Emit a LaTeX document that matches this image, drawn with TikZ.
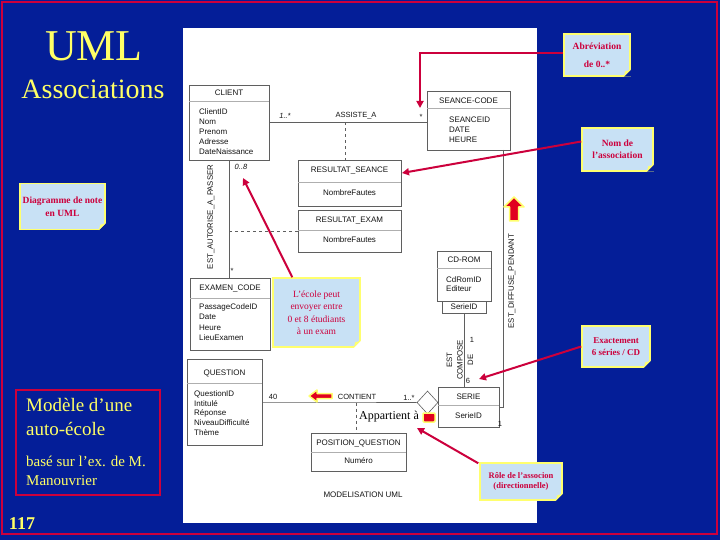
\documentclass[tikz,border=0pt]{standalone}
\usepackage{fontspec}
\setmainfont{Liberation Serif}
\newfontfamily\umlfont{Liberation Sans}
\usetikzlibrary{shapes.geometric,arrows.meta}
\definecolor{slidebg}{RGB}{4,30,152}
\definecolor{crim}{RGB}{204,0,60}
\definecolor{calfill}{RGB}{200,225,245}
\definecolor{calyel}{RGB}{255,255,110}
\definecolor{titley}{RGB}{255,255,102}
\definecolor{umlgrey}{RGB}{95,95,95}
\definecolor{umltext}{RGB}{20,20,20}
\definecolor{blockred}{RGB}{225,0,30}
\newcommand\foldcorner[2]{%
  \fill[#2] (#1.south east) -- ([xshift=-7pt]#1.south east) -- ([yshift=7pt]#1.south east) -- cycle;
  \fill[calyel] ([xshift=-7pt]#1.south east) -- ([yshift=7pt]#1.south east) -- ([xshift=-5.5pt,yshift=5.5pt]#1.south east) -- cycle;}
\begin{document}
\begin{tikzpicture}[x=1pt,y=-1pt,
  cls/.style={draw=umlgrey, line width=0.6pt, fill=white, inner sep=0, anchor=north west},
  hdr/.style={font=\umlfont\fontsize{8}{9}\selectfont, text=umltext, inner sep=0},
  attr/.style={font=\umlfont\fontsize{8}{10}\selectfont, text=umltext, align=left, inner sep=0, anchor=north west},
  lbl/.style={font=\umlfont\fontsize{7.5}{9}\selectfont, text=umltext, inner sep=0},
  sep/.style={draw=umlgrey!50, line width=0.4pt},
  assoc/.style={draw=umlgrey, line width=0.6pt},
  callout/.style={draw=calyel, line width=1.5pt, fill=calfill, align=center, text=crim,
    font=\fontsize{9.5}{12}\selectfont\bfseries, inner sep=1pt},
  pointer/.style={draw=crim, line width=2pt, -{Triangle[length=7pt,width=7pt]}},
  blockarrow/.style={draw=calyel, line width=1.5pt, fill=blockred, line join=round}]
\useasboundingbox (0,0) rectangle (720,540);
% slide
\fill[slidebg] (0,0) rectangle (720,540);
\draw[crim, line width=2pt] (2,2) rectangle (717,534);
\node[text=titley, font=\fontsize{44}{48}\selectfont, inner sep=0] (t1) at (94,46) {UML};
\node[text=titley, font=\fontsize{28}{32}\selectfont, inner sep=0] (t2) at (93,89) {Associations};
% white panel
\fill[white] (183,28) rectangle (537,523);
% classes
\node[cls, minimum width=80, minimum height=75] (client) at (189,85) {};
\node[hdr] (clientH) at (229,93) {CLIENT};
\draw[sep] (189,101) -- (269,101);
\node[attr] (clientA) at (199,108.5) {ClientID\\Nom\\Prenom\\Adresse\\DateNaissance};

\node[cls, minimum width=83, minimum height=59] (seance) at (427,91) {};
\node[hdr] (seanceH) at (468.5,101) {SEANCE-CODE};
\draw[sep] (427,108) -- (510,108);
\node[attr] (seanceA) at (449,116.5) {SEANCEID\\DATE\\HEURE};

\node[cls, minimum width=103, minimum height=46] (resseance) at (298,160) {};
\node[hdr] (resseanceH) at (349.5,171) {RESULTAT\_SEANCE};
\draw[sep] (298,182) -- (401,182);
\node[hdr] (resseanceA) at (349.5,193) {NombreFautes};

\node[cls, minimum width=103, minimum height=42] (resexam) at (298,210) {};
\node[hdr] (resexamH) at (349.5,221) {RESULTAT\_EXAM};
\draw[sep] (298,230) -- (401,230);
\node[hdr] (resexamA) at (349.5,240) {NombreFautes};

\node[cls, minimum width=54, minimum height=50] (cdrom) at (437,251) {};
\node[hdr] (cdromH) at (464,260) {CD-ROM};
\draw[sep] (437,268) -- (491,268);
\node[attr, font=\umlfont\fontsize{8}{9.5}\selectfont] (cdromA) at (446,276.5) {CdRomID\\Editeur};
\node[cls, minimum width=44, minimum height=12] (qual) at (442,301) {};
\node[hdr] (qualT) at (464,307) {SerieID};

\node[cls, minimum width=61, minimum height=40] (serie) at (438,387) {};
\node[hdr] (serieH) at (468.5,397) {SERIE};
\draw[sep] (438,405) -- (499,405);
\node[hdr] (serieA) at (468.5,416) {SerieID};

\node[cls, minimum width=80, minimum height=72] (examen) at (190,278) {};
\node[hdr] (examenH) at (230,289) {EXAMEN\_CODE};
\draw[sep] (190,298) -- (270,298);
\node[attr, font=\umlfont\fontsize{8}{10.3}\selectfont] (examenA) at (199,303.5) {PassageCodeID\\Date\\Heure\\LieuExamen};

\node[cls, minimum width=75, minimum height=86] (question) at (187,359) {};
\node[hdr] (questionH) at (224.5,373) {QUESTION};
\draw[sep] (187,383) -- (262,383);
\node[attr, font=\umlfont\fontsize{8}{9.75}\selectfont] (questionA) at (194,390.5) {QuestionID\\Intitulé\\Réponse\\NiveauDifficulté\\Thème};

\node[cls, minimum width=95, minimum height=38] (posq) at (311,433) {};
\node[hdr] (posqH) at (358.5,443) {POSITION\_QUESTION};
\draw[sep] (311,452) -- (406,452);
\node[hdr] (posqA) at (358.5,461) {Numéro};

\node[diamond, draw=umlgrey, line width=0.6pt, fill=white, minimum width=21, minimum height=23, inner sep=0] (dia) at (427.5,402.5) {};

% associations
\draw[assoc] (client.east) -- (client.east -| seance.west);
\coordinate (asA) at (345,122.5);
\draw[assoc, dashed] (asA) -- (asA |- resseance.north);
\draw[assoc] (client.south) -- (client.south |- examen.north);
\coordinate (eaP) at (229,231);
\draw[assoc, dashed] (eaP) -- (eaP -| resexam.west);
\draw[assoc] (qual.south) -- (qual.south |- serie.north);
\coordinate (dfTop) at (503,150);
\draw[assoc] (dfTop) |- (serie.east);
\draw[assoc] (question.east) -- (dia.west);
\coordinate (ctP) at (356,402.5);
\draw[assoc, dashed] (ctP) -- (ctP |- posq.north);

% association labels
\node[lbl, font=\umlfont\itshape\fontsize{7.5}{9}\selectfont] (m1) at (285,116) {1..*};
\node[lbl] (asN) at (356,116) {ASSISTE\_A};
\node[lbl] (m2) at (421,117) {*};
\node[lbl, font=\umlfont\itshape\fontsize{7.5}{9}\selectfont] (m3) at (241,167) {0..8};
\node[lbl] (m4) at (232,271) {*};
\node[lbl, rotate=90, font=\umlfont\fontsize{7.8}{9}\selectfont] (eaN) at (211,217) {EST\_AUTORISE\_A\_PASSER};
\node[lbl, rotate=90, font=\umlfont\fontsize{7.8}{9}\selectfont] (dfN) at (512,281) {EST\_DIFFUSE\_PENDANT};
\node[lbl, rotate=90, align=center, font=\umlfont\fontsize{7.8}{10.5}\selectfont] (ecN) at (460,360) {EST\\COMPOSE\\DE};
\node[lbl] (m5) at (472,340) {1};
\node[lbl] (m6) at (468,381) {6};
\node[lbl] (m7) at (500,424) {1};
\node[lbl] (m8) at (273,397) {40};
\node[lbl] (ctN) at (357,397) {CONTIENT};
\node[lbl] (m9) at (409,398) {1..*};
\node[hdr] (modN) at (363,495) {MODELISATION UML};
\node[text=black, font=\fontsize{12}{14}\selectfont, inner sep=0] (appN) at (389,417) {Appartient à};

% highlight arrows
\draw[blockarrow] (514,197) -- (524,207) -- (518.5,207) -- (518.5,221) -- (509.5,221) -- (509.5,207) -- (504,207) -- cycle;
\draw[blockarrow] (309,396) -- (317,390) -- (317,393.5) -- (332,393.5) -- (332,398.5) -- (317,398.5) -- (317,402) -- cycle;
\draw[blockarrow, rounded corners=1pt] (423,413) rectangle (435,422);

% callouts
\node[callout, minimum width=66, minimum height=42] (abbr) at (597,55) {Abréviation\\[6pt]de 0..*};
\foldcorner{abbr}{slidebg}
\node[callout, minimum width=71, minimum height=43] (nom) at (617.5,149.5) {Nom de\\l'association};
\foldcorner{nom}{slidebg}
\node[callout, minimum width=85, minimum height=46, font=\fontsize{9.5}{13}\selectfont\bfseries] (diag) at (62.5,206.5) {Diagramme de note\\en UML};
\foldcorner{diag}{slidebg}
\node[callout, minimum width=87, minimum height=69, font=\fontsize{9.5}{12.5}\selectfont] (ecole) at (316.5,312.5) {L'école peut\\envoyer entre\\0 et 8 étudiants\\à un exam};
\foldcorner{ecole}{white}
\node[callout, minimum width=68, minimum height=41, font=\fontsize{9}{12}\selectfont\bfseries] (exact) at (616,346.5) {Exactement\\6 séries / CD};
\foldcorner{exact}{slidebg}
\node[callout, minimum width=82, minimum height=37, font=\fontsize{8.5}{10.5}\selectfont\bfseries] (role) at (521,481.5) {Rôle de l'associon\\(directionnelle)};
\foldcorner{role}{slidebg}

% pointers
\coordinate (starTip) at (420,108);
\draw[pointer] ([yshift=2pt]abbr.west) -| (starTip);
\coordinate (rsTip) at (402,173);
\draw[pointer] ([yshift=8pt]nom.west) -- (rsTip);
\coordinate (zeTip) at (243,178);
\draw[pointer] ([xshift=20pt]ecole.north west) -- (zeTip);
\coordinate (sixTip) at (479,379);
\draw[pointer] (exact.west) -- (sixTip);
\coordinate (appTip) at (417,428);
\draw[pointer] ([xshift=-1pt,yshift=-1pt]role.north west) -- (appTip);

% left text box
\draw[crim, line width=1.8pt] (16,390) rectangle (160,495);
\node[text=titley, font=\fontsize{19}{24}\selectfont, align=left, anchor=north west, inner sep=0] (modA) at (26,398) {Modèle d'une\\auto-école};
\node[text=titley, font=\fontsize{15}{19}\selectfont, align=left, anchor=north west, inner sep=0] (modB) at (26,456) {basé sur l'ex. de M.\\Manouvrier};
\node[text=titley, font=\fontsize{18}{20}\selectfont\bfseries, inner sep=0] (pg) at (22,524) {117};
\end{tikzpicture}
\end{document}
